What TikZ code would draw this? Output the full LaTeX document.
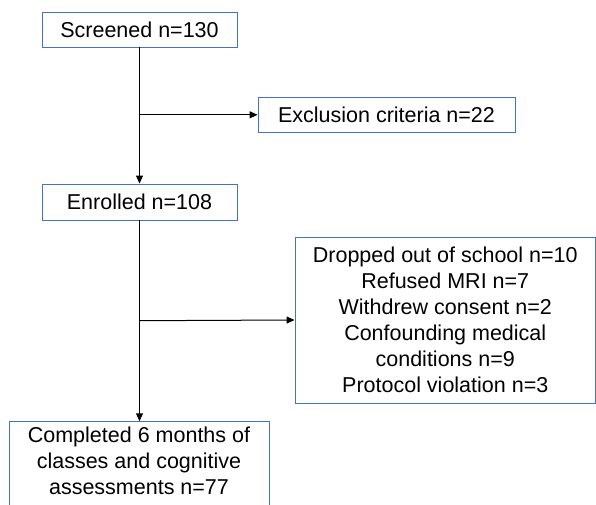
\documentclass[tikz,border=0pt]{standalone}
\usepackage{fontspec}
\setmainfont{Liberation Sans}
\usetikzlibrary{arrows.meta}
\definecolor{boxblue}{HTML}{4472C4}
\tikzset{
  txt/.style={font=\fontsize{21.5}{26}\selectfont},
  box/.style={draw=boxblue, line width=0.9pt, fill=white, inner sep=2pt, align=center,
    txt, anchor=center},
  conn/.style={draw=black, line width=1pt},
  arr/.style={conn, -{Triangle[length=8pt,width=7pt]}}
}
\begin{document}
\begin{tikzpicture}[x=1pt,y=-1pt]
\useasboundingbox (0,0) rectangle (596,504);
\node[box, minimum width=195pt, minimum height=35pt] (scr) at (139.5,29.5) {Screened n=130};
\node[box, minimum width=257pt, minimum height=35.5pt] (exc) at (386.5,114.8) {Exclusion criteria n=22};
\node[box, minimum width=195pt, minimum height=36pt] (enr) at (139.5,202) {Enrolled n=108};
\node[box, minimum width=300.5pt, minimum height=166pt] (drop) at (445.25,320) {Dropped out of school n=10\\Refused MRI n=7\\Withdrew consent n=2\\Confounding medical\\conditions n=9\\Protocol violation n=3};
\node[box, minimum width=260pt, minimum height=100pt] (comp) at (139,471.7) {};
\node[align=center, txt] (comptext) at (139,461) {Completed 6 months of\\classes and cognitive\\assessments n=77};
\coordinate (b1) at (139.5,114.8);
\coordinate (b2) at (139.5,320.7);
\draw[arr] (scr.south) -- (enr.north);
\draw[arr] (b1) -- (exc.west);
\draw[arr] (enr.south) -- (enr.south |- comp.north);
\draw[arr] (b2) -- (drop.west);
\end{tikzpicture}
\end{document}
